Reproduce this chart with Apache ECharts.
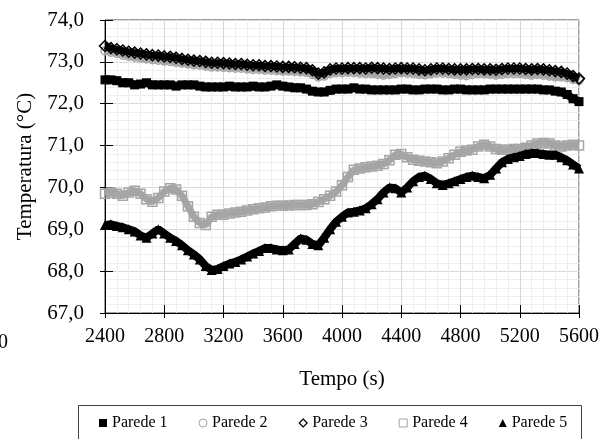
<!DOCTYPE html>
<html><head><meta charset="utf-8">
<script src="https://cdn.jsdelivr.net/npm/echarts@6/dist/echarts.min.js"></script>
<style>html,body{margin:0;padding:0;background:#fff}#c{width:605px;height:439px}</style>
</head><body><div id="c"></div>
<script>
// sampling: every 40 s from 2400 s to 5600 s
const tStart = 2400, tStep = 40;
const xTicks = [2400, 2800, 3200, 3600, 4000, 4400, 4800, 5200, 5600];
const yTicks = [67, 68, 69, 70, 71, 72, 73, 74];
const seriesNames = ['Parede 1', 'Parede 2', 'Parede 3', 'Parede 4', 'Parede 5'];

const parede1 = [
 72.57,72.57,72.55,72.50,72.50,72.45,72.47,72.50,72.45,72.45,
 72.45,72.45,72.42,72.45,72.45,72.45,72.42,72.40,72.40,72.40,
 72.40,72.42,72.40,72.40,72.40,72.42,72.40,72.40,72.42,72.45,
 72.42,72.40,72.38,72.38,72.35,72.30,72.28,72.28,72.32,72.35,
 72.35,72.35,72.38,72.35,72.35,72.33,72.33,72.33,72.33,72.33,
 72.35,72.35,72.33,72.33,72.35,72.35,72.35,72.33,72.33,72.35,
 72.35,72.33,72.33,72.33,72.33,72.35,72.35,72.35,72.35,72.35,
 72.35,72.35,72.35,72.35,72.33,72.33,72.30,72.28,72.22,72.12,72.05];
const parede2 = [
 73.26,73.23,73.20,73.16,73.13,73.11,73.09,73.07,73.05,73.04,
 73.02,73.01,72.99,72.97,72.95,72.93,72.92,72.90,72.88,72.88,
 72.87,72.86,72.85,72.85,72.83,72.82,72.82,72.80,72.80,72.79,
 72.78,72.78,72.77,72.76,72.75,72.70,72.64,72.66,72.72,72.74,
 72.74,72.75,72.74,72.73,72.72,72.72,72.70,72.68,72.70,72.72,
 72.74,72.73,72.72,72.70,72.69,72.71,72.73,72.73,72.72,72.70,
 72.68,72.67,72.70,72.72,72.71,72.70,72.68,72.70,72.72,72.72,
 72.72,72.70,72.68,72.70,72.68,72.66,72.64,72.64,72.62,72.58,72.56];
const parede3 = [
 73.38,73.33,73.30,73.27,73.24,73.22,73.20,73.18,73.16,73.15,
 73.13,73.12,73.10,73.07,73.05,73.03,73.02,73.00,72.98,72.98,
 72.97,72.96,72.95,72.95,72.93,72.92,72.92,72.90,72.90,72.89,
 72.88,72.88,72.87,72.86,72.85,72.80,72.72,72.75,72.82,72.84,
 72.84,72.85,72.85,72.85,72.84,72.86,72.85,72.84,72.83,72.84,
 72.85,72.84,72.84,72.82,72.80,72.82,72.84,72.84,72.83,72.82,
 72.82,72.82,72.83,72.83,72.82,72.82,72.81,72.83,72.84,72.84,
 72.84,72.83,72.82,72.83,72.82,72.80,72.78,72.76,72.72,72.66,72.60];
const parede4 = [
 69.85,69.88,69.85,69.80,69.88,69.92,69.85,69.72,69.66,69.75,
 69.90,69.98,69.95,69.80,69.55,69.30,69.15,69.10,69.30,69.35,
 69.35,69.38,69.40,69.42,69.45,69.48,69.50,69.52,69.55,69.56,
 69.56,69.57,69.58,69.58,69.58,69.60,69.65,69.72,69.80,69.90,
 70.05,70.25,70.42,70.45,70.48,70.50,70.52,70.56,70.65,70.78,
 70.80,70.72,70.66,70.64,70.62,70.60,70.58,70.62,70.70,70.78,
 70.85,70.88,70.90,70.98,71.02,70.98,70.92,70.90,70.90,70.92,
 70.92,70.95,71.00,71.05,71.06,71.05,71.00,70.98,71.00,71.02,71.00];
const parede5 = [
 69.10,69.12,69.08,69.05,69.00,68.95,68.85,68.80,68.90,69.00,
 68.90,68.80,68.72,68.62,68.50,68.40,68.28,68.12,68.03,68.05,
 68.12,68.18,68.22,68.28,68.35,68.42,68.48,68.55,68.55,68.52,
 68.50,68.52,68.65,68.78,68.75,68.65,68.62,68.80,69.00,69.18,
 69.30,69.40,69.42,69.45,69.50,69.60,69.72,69.88,70.00,69.98,
 69.88,70.00,70.15,70.25,70.28,70.20,70.10,70.06,70.10,70.15,
 70.20,70.25,70.28,70.25,70.22,70.30,70.45,70.60,70.68,70.72,
 70.75,70.80,70.82,70.82,70.80,70.78,70.78,70.72,70.65,70.55,70.45];

const FONT = '"Liberation Serif", "Times New Roman", serif';
const GRAY = '#a5a5a5';
const pts = arr => arr.map((v, i) => [tStart + i * tStep, v]);

const styles = [
  {symbol: 'rect', size: 9, line: {color: '#000', width: 8}, item: {color: '#000'}},
  {symbol: 'circle', size: 8, line: {color: GRAY, width: 6}, item: {color: 'rgba(0,0,0,0)', borderColor: GRAY, borderWidth: 1.5}},
  {symbol: 'diamond', size: 11, line: {color: '#000', width: 7}, item: {color: 'rgba(0,0,0,0)', borderColor: '#000', borderWidth: 1.5}},
  {symbol: 'rect', size: 9, line: {color: GRAY, width: 7}, item: {color: 'rgba(0,0,0,0)', borderColor: GRAY, borderWidth: 1.5}},
  {symbol: 'triangle', size: 10, line: {color: '#000', width: 8}, item: {color: '#000'}}
];
const legendIcons = ['rect', 'circle', 'diamond', 'rect', 'triangle'];
const allData = [parede1, parede2, parede3, parede4, parede5];

const grid = {left: 105, right: 26, top: 20, bottom: 126, show: true, borderColor: '#404040', borderWidth: 1, backgroundColor: 'transparent'};
const fmtY = v => v.toFixed(1).replace('.', ',');

const chart = echarts.init(document.getElementById('c'), null, {renderer: 'canvas'});
chart.setOption({
  animation: false,
  backgroundColor: '#fff',
  textStyle: {fontFamily: FONT},
  grid: grid,
  legend: {
    data: seriesNames.map((n, k) => ({name: n, icon: legendIcons[k],
      itemStyle: k === 1 || k === 3 ? {color: '#fff', borderColor: GRAY, borderWidth: 1} : (k === 2 ? {color: '#fff', borderColor: '#000', borderWidth: 1.2} : {color: '#000'})})),
    left: 94, top: 410,
    itemWidth: 8, itemHeight: 8, itemGap: 31,
    textStyle: {fontFamily: FONT, fontSize: 16, color: '#000'}
  },
  xAxis: [{
    type: 'value', min: xTicks[0], max: xTicks[xTicks.length - 1], interval: 400,
    name: 'Tempo (s)', nameLocation: 'middle', nameGap: 56,
    nameTextStyle: {fontFamily: FONT, fontSize: 21, color: '#000'},
    axisLine: {onZero: false, lineStyle: {color: '#000', width: 1}},
    axisTick: {show: true, inside: false, length: 5, lineStyle: {color: '#000'}},
    axisLabel: {fontFamily: FONT, fontSize: 20, color: '#000', margin: 14, formatter: v => String(v)},
    splitLine: {show: true, lineStyle: {color: '#d9d9d9', width: 1}},
    minorTick: {show: false, splitNumber: 5},
    minorSplitLine: {show: true, lineStyle: {color: '#eeeeee', width: 1}}
  }, {
    type: 'value', min: xTicks[0], max: xTicks[xTicks.length - 1], interval: 400, position: 'bottom',
    axisLine: {show: false}, axisLabel: {show: false}, splitLine: {show: false},
    axisTick: {show: true, inside: true, length: 8, lineStyle: {color: '#000'}}
  }],
  yAxis: [{
    type: 'value', min: yTicks[0], max: yTicks[yTicks.length - 1], interval: 1,
    name: 'Temperatura (°C)', nameLocation: 'middle', nameGap: 67, nameRotate: 90,
    nameTextStyle: {fontFamily: FONT, fontSize: 21, color: '#000'},
    axisLine: {show: true, onZero: false, lineStyle: {color: '#000', width: 1}},
    axisTick: {show: true, inside: false, length: 5, lineStyle: {color: '#000'}},
    axisLabel: {fontFamily: FONT, fontSize: 21, color: '#000', margin: 21, formatter: fmtY},
    splitLine: {show: true, lineStyle: {color: '#d9d9d9', width: 1}},
    minorTick: {show: false, splitNumber: 5},
    minorSplitLine: {show: true, lineStyle: {color: '#eeeeee', width: 1}}
  }, {
    type: 'value', min: yTicks[0], max: yTicks[yTicks.length - 1], interval: 1, position: 'left',
    axisLine: {show: false}, axisLabel: {show: false}, splitLine: {show: false},
    axisTick: {show: true, inside: true, length: 8, lineStyle: {color: '#000'}}
  }],
  graphic: [
    {type: 'rect', left: 78, top: 405, z: -1, shape: {width: 503, height: 40}, style: {fill: '#fff', stroke: '#404040', lineWidth: 1}, silent: true},
    {type: 'text', left: -2, top: 333, style: {text: '0', font: '20px ' + FONT, fill: '#000'}}
  ],
  series: seriesNames.map((name, k) => ({
    name: name, type: 'line', xAxisIndex: 0, yAxisIndex: 0,
    data: pts(allData[k]),
    showSymbol: true, showAllSymbol: true,
    symbol: styles[k].symbol, symbolSize: styles[k].size,
    lineStyle: styles[k].line,
    itemStyle: styles[k].item,
    z: 2 + k
  }))
});
</script></body></html>
